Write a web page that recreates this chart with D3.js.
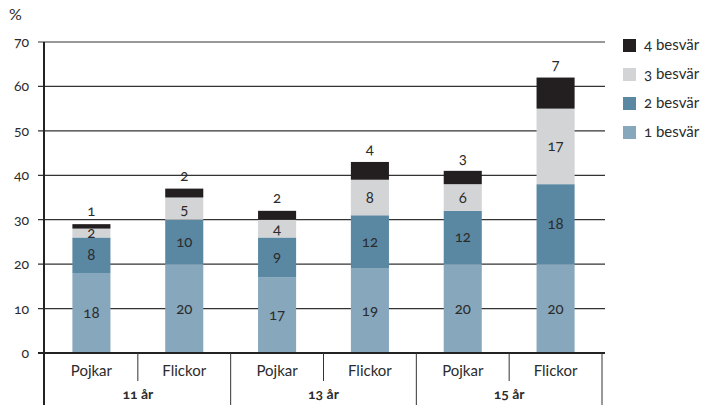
<!DOCTYPE html>
<html>
<head>
<meta charset="utf-8">
<script src="https://cdn.jsdelivr.net/npm/d3@7"></script>
<style>
  body { margin: 0; background: #fff; }
  svg text { font-family: Lato, "Noto Sans", sans-serif; font-feature-settings: "onum" 1; fill: #2b2b2b; }
</style>
</head>
<body>
<div id="chart-area"></div>
<script>
// Dataset
var groups = ['11 år', '13 år', '15 år'];
var genders = ['Pojkar', 'Flickor'];
var series = ['1 besvär', '2 besvär', '3 besvär', '4 besvär'];
var besvar1 = [18, 20, 17, 19, 20, 20];
var besvar2 = [8, 10, 9, 12, 12, 18];
var besvar3 = [2, 5, 4, 8, 6, 17];
var besvar4 = [1, 2, 2, 4, 3, 7];
var yTicks = [0, 10, 20, 30, 40, 50, 60, 70];
var colors = ['#87a7bd', '#5a88a3', '#d3d4d6', '#231f20'];

var cats = [];
groups.forEach(function (g) { genders.forEach(function (s) { cats.push(g + '|' + s); }); });
var rows = cats.map(function (c, i) {
  return { cat: c, '1 besvär': besvar1[i], '2 besvär': besvar2[i], '3 besvär': besvar3[i], '4 besvär': besvar4[i] };
});

var width = 709, height = 405;
var plotLeft = 45, plotRight = 602, plotTop = 42, plotBottom = 353;

var svg = d3.select('#chart-area').append('svg')
  .attr('width', width)
  .attr('height', height);

var x = d3.scaleBand().domain(cats).range([plotLeft, plotRight]).paddingInner(0.59).paddingOuter(0.295);
var y = d3.scaleLinear().domain([0, 70]).range([plotBottom, plotTop]);

// grid lines
svg.append('g').selectAll('line')
  .data(yTicks.filter(function (d) { return d > 0; }))
  .enter().append('line')
  .attr('x1', plotLeft - 7).attr('x2', plotRight + 3)
  .attr('y1', function (d) { return y(d); }).attr('y2', function (d) { return y(d); })
  .attr('stroke', '#333').attr('stroke-width', 1.2);

// y tick labels
svg.append('g').selectAll('text')
  .data(yTicks)
  .enter().append('text')
  .attr('x', 29).attr('y', function (d) { return y(d) + 5; })
  .attr('text-anchor', 'end')
  .style('font-size', '14px')
  .text(function (d) { return d; });

svg.append('text').attr('x', 9).attr('y', 20).style('font-size', '16px').text('%');

// stacked bars
var stack = d3.stack().keys(series)(rows);
var layers = svg.append('g').selectAll('g')
  .data(stack)
  .enter().append('g')
  .attr('fill', function (d, i) { return colors[i]; });

layers.selectAll('rect')
  .data(function (d) { return d; })
  .enter().append('rect')
  .attr('x', function (d) { return x(d.data.cat); })
  .attr('width', x.bandwidth())
  .attr('y', function (d) { return y(d[1]); })
  .attr('height', function (d) { return y(d[0]) - y(d[1]); });

// segment labels
stack.forEach(function (layer, li) {
  svg.append('g').selectAll('text')
    .data(layer)
    .enter().append('text')
    .attr('x', function (d) { return x(d.data.cat) + x.bandwidth() / 2; })
    .attr('y', function (d) {
      if (li === 3) return y(d[1]) - 8;
      return (y(d[0]) + y(d[1])) / 2 + 5;
    })
    .attr('text-anchor', 'middle')
    .style('font-size', '15px')
    .text(function (d) { return d[1] - d[0]; });
});

// axes lines
svg.append('line').attr('x1', plotLeft - 1).attr('x2', plotLeft - 1).attr('y1', plotTop).attr('y2', height)
  .attr('stroke', '#222').attr('stroke-width', 2);
svg.append('line').attr('x1', plotLeft - 7).attr('x2', plotRight + 3).attr('y1', plotBottom).attr('y2', plotBottom)
  .attr('stroke', '#222').attr('stroke-width', 2);

// category separators
var step = x.step();
cats.forEach(function (c, i) {
  var bx = plotLeft + step * (i + 1);
  svg.append('line').attr('x1', bx).attr('x2', bx).attr('y1', plotBottom)
    .attr('y2', i % 2 === 1 ? height : 381)
    .attr('stroke', '#333').attr('stroke-width', 1);
});

// gender labels
svg.append('g').selectAll('text')
  .data(cats)
  .enter().append('text')
  .attr('x', function (d) { return x(d) + x.bandwidth() / 2; })
  .attr('y', 376)
  .attr('text-anchor', 'middle')
  .style('font-size', '15px')
  .text(function (d) { return d.split('|')[1]; });

// group labels
svg.append('g').selectAll('text')
  .data(groups)
  .enter().append('text')
  .attr('x', function (d, i) { return plotLeft + step * (i * 2 + 1); })
  .attr('y', 399)
  .attr('text-anchor', 'middle')
  .style('font-size', '14px')
  .style('font-weight', 'bold')
  .text(function (d) { return d; });

// legend
var legend = svg.append('g').attr('transform', 'translate(623, 39)');
var legendItems = legend.selectAll('g')
  .data(series.slice().reverse())
  .enter().append('g')
  .attr('transform', function (d, i) { return 'translate(0,' + i * 29 + ')'; });

legendItems.append('rect')
  .attr('width', 13).attr('height', 13)
  .attr('fill', function (d, i) { return colors[3 - i]; });

legendItems.append('text')
  .attr('x', 21).attr('y', 11)
  .style('font-size', '15px')
  .text(function (d) { return d; });
</script>
</body>
</html>
